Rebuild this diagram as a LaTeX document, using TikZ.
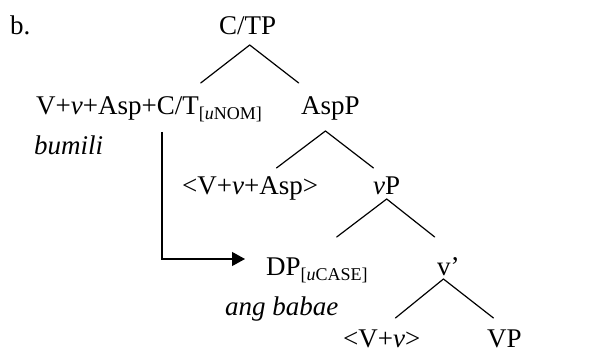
\documentclass[tikz,border=0pt]{standalone}
\usepackage{fontspec}
\setmainfont{Liberation Serif}
\usepackage{tikz}
\usetikzlibrary{arrows.meta}

\tikzset{
    lbl/.style={anchor=base west, inner sep=0pt, font=\fontsize{27}{30}\selectfont},
    branch/.style={line width=1.2pt, line cap=round},
    movearrow/.style={line width=1.2pt, -{Triangle[length=13pt,width=14pt]}}
}
\newcommand{\featsub}[1]{\raisebox{-5pt}{\fontsize{18}{20}\selectfont[\textit{u}#1]}}

\begin{document}
\begin{tikzpicture}[x=1pt, y=-1pt]
        \useasboundingbox (0,0) rectangle (613,358);

        \node[lbl] (ex) at (10,35) {b.};
        \node[lbl] (ctp) at (219,35) {C/TP};
        \node[lbl] (head) at (36,115) {V+\textit{v}+Asp+C/T\featsub{NOM}};
        \node[lbl] (aspp) at (301,115) {AspP};
        \node[lbl, font=\fontsize{27}{30}\selectfont\itshape] (bumili) at (34,155) {bumili};
        \node[lbl] (aspcopy) at (182,195) {<V+\textit{v}+Asp>};
        \node[lbl] (vp) at (373,195) {\textit{v}P};
        \node[lbl] (dp) at (266,275) {DP\featsub{CASE}};
        \node[lbl] (vbar) at (437,275) {v’};
        \node[lbl, font=\fontsize{27}{30}\selectfont\itshape] (babae) at (225,315) {ang babae};
        \node[lbl] (vcopy) at (343,347) {<V+\textit{v}>};
        \node[lbl] (vpp) at (487,347) {VP};

        \draw[branch] ([shift={(2,10)}]ctp.base) -- ++(-49,38);
        \draw[branch] ([shift={(2,10)}]ctp.base) -- ++(49,38);
        \draw[branch] ([shift={(-5,16)}]aspp.base) -- ++(-49,37);
        \draw[branch] ([shift={(-5,16)}]aspp.base) -- ++(48,37);
        \draw[branch] ([shift={(0,4)}]vp.base) -- ++(-50,38);
        \draw[branch] ([shift={(0,4)}]vp.base) -- ++(48,38);
        \draw[branch] ([shift={(-5,4)}]vbar.base) -- ++(-48,39);
        \draw[branch] ([shift={(-5,4)}]vbar.base) -- ++(50,39);

        \draw[movearrow] ([shift={(126,17)}]head.base west) |- ([shift={(-21,-16)}]dp.base west);

\end{tikzpicture}
\end{document}
